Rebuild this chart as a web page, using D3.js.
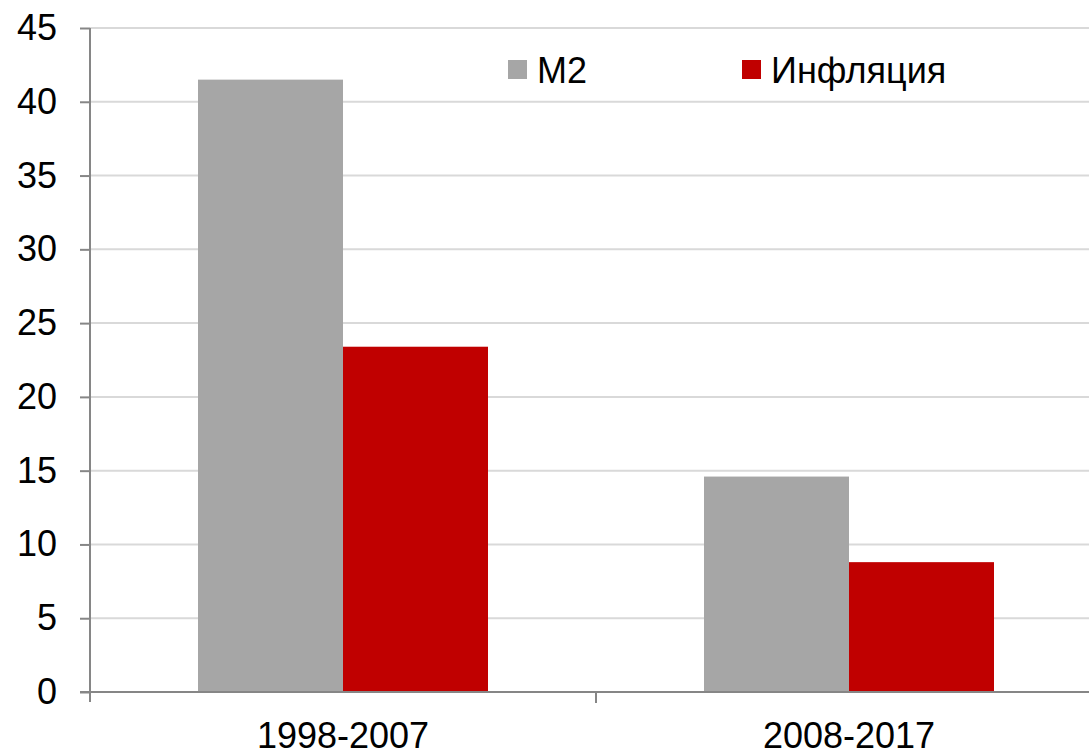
<!DOCTYPE html>
<html>
<head>
<meta charset="utf-8">
<script src="https://cdn.jsdelivr.net/npm/d3@7"></script>
<style>
  body { margin: 0; background: #fff; }
  text { font-family: "Liberation Sans", Arial, sans-serif; fill: #000; }
</style>
</head>
<body>
<div id="chart"></div>
<script>
const categories = ["1998-2007", "2008-2017"]
const seriesNames = ["M2", "Инфляция"]
const m2Values = [41.5, 14.6]
const inflationValues = [23.4, 8.8]
const yTicks = [0, 5, 10, 15, 20, 25, 30, 35, 40, 45]
const colors = ["#a6a6a6", "#c00000"]

const width = 1089
const height = 752
const margin = {top: 28, right: -13, bottom: 60, left: 90}
const fontSize = "36px"

const svg = d3.select("#chart")
    .append("svg")
    .attr("width", width)
    .attr("height", height)

const x = d3.scaleBand()
    .domain(categories)
    .range([margin.left, width - margin.right])

const xSub = d3.scaleBand()
    .domain(seriesNames)
    .range([0, 290])

const y = d3.scaleLinear()
    .domain([0, 45])
    .range([height - margin.bottom, margin.top])

// grid
svg.append("g")
    .selectAll("line")
    .data(yTicks.filter(d => d > 0))
    .join("line")
    .attr("x1", margin.left)
    .attr("x2", width - margin.right)
    .attr("y1", d => y(d))
    .attr("y2", d => y(d))
    .attr("stroke", "#d9d9d9")
    .attr("stroke-width", 2)

const rows = categories.map((c, i) => ({cat: c, values: [m2Values[i], inflationValues[i]]}))

svg.append("g")
    .selectAll("g")
    .data(rows)
    .join("g")
    .attr("transform", d => `translate(${x(d.cat) + x.bandwidth() / 2 - 145},0)`)
    .selectAll("rect")
    .data(d => d.values.map((v, j) => ({name: seriesNames[j], value: v, j})))
    .join("rect")
    .attr("x", d => xSub(d.name))
    .attr("width", xSub.bandwidth())
    .attr("y", d => y(d.value))
    .attr("height", d => y(0) - y(d.value))
    .attr("fill", d => colors[d.j])

// y axis
const yAxis = svg.append("g")
    .attr("transform", `translate(${margin.left},0)`)
    .call(d3.axisLeft(y).tickValues(yTicks).tickSize(10).tickPadding(23))
yAxis.selectAll("line, path").attr("stroke", "#868686").attr("stroke-width", 2)
yAxis.select(".domain").attr("d", `M0,${y(45)}V${y(0) + 10}`)
yAxis.selectAll("text").style("font-size", fontSize).attr("fill", "#000")

// x axis
const xAxis = svg.append("g")
    .attr("transform", `translate(0,${y(0)})`)
    .call(d3.axisBottom(x).tickSize(0).tickPadding(30))
xAxis.select(".domain").attr("stroke", "#868686").attr("stroke-width", 2)
    .attr("d", `M${margin.left - 10},0H${width}`)
xAxis.selectAll("text").style("font-size", fontSize).attr("fill", "#000")
svg.append("g")
    .selectAll("line")
    .data(categories.slice(1))
    .join("line")
    .attr("x1", d => x(d))
    .attr("x2", d => x(d))
    .attr("y1", y(0))
    .attr("y2", y(0) + 11)
    .attr("stroke", "#868686")
    .attr("stroke-width", 2)

// legend
const legendX = [508, 742]
const legend = svg.append("g")
    .selectAll("g")
    .data(seriesNames)
    .join("g")
    .attr("transform", (d, i) => `translate(${legendX[i]},60)`)
legend.append("rect")
    .attr("width", 19)
    .attr("height", 19)
    .attr("fill", (d, i) => colors[i])
legend.append("text")
    .attr("x", 29)
    .attr("y", 10)
    .attr("dy", "0.35em")
    .style("font-size", fontSize)
    .text(d => d)
</script>
</body>
</html>
